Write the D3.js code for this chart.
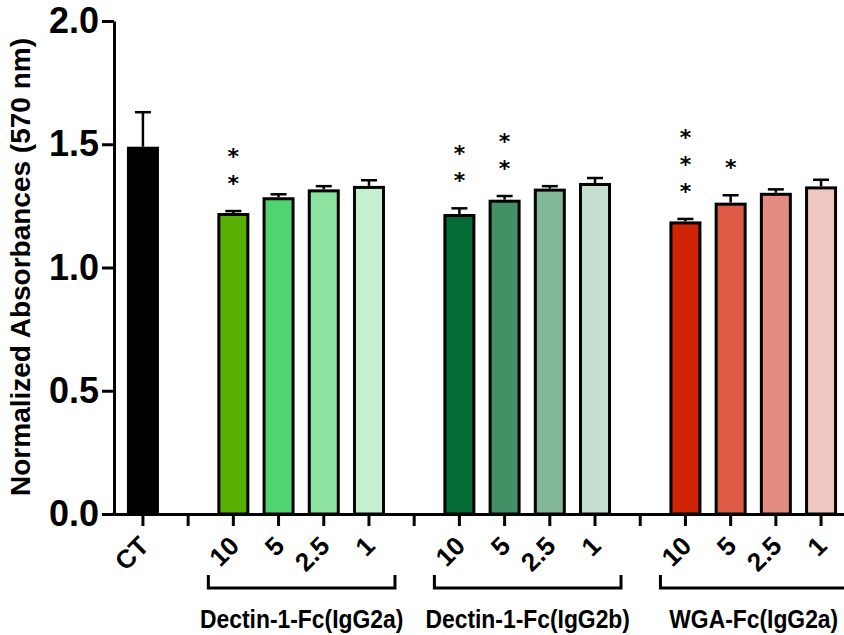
<!DOCTYPE html>
<html>
<head>
<meta charset="utf-8">
<script src="https://cdn.jsdelivr.net/npm/d3@7"></script>
<style>
  body { margin: 0; background: #fff; }
  svg { display: block; }
  text { font-family: "Liberation Sans", Arial, sans-serif; font-weight: bold; }
</style>
</head>
<body>
<svg id="chart" width="844" height="635"></svg>
<script>
// data
const groups = ["Dectin-1-Fc(IgG2a)", "Dectin-1-Fc(IgG2b)", "WGA-Fc(IgG2a)"];
const doses = ["10", "5", "2.5", "1"];
const ctMean = 1.49;
const ctSem = 0.14;
const means = [
    [1.221, 1.285, 1.317, 1.331],
    [1.217, 1.275, 1.320, 1.343],
    [1.187, 1.263, 1.303, 1.329]
];
const sems = [
    [0.008, 0.012, 0.013, 0.023],
    [0.023, 0.015, 0.010, 0.020],
    [0.010, 0.030, 0.014, 0.027]
];
const stars = [
    [2, 0, 0, 0],
    [2, 2, 0, 0],
    [3, 1, 0, 0]
];
const colors = [
    ["#58b005", "#50d470", "#8ce3a0", "#c5f0cf"],
    ["#036b33", "#438f66", "#83b89b", "#c4dfd0"],
    ["#d12305", "#dd5a45", "#e28d80", "#f0c6c0"]
];
const yTicks = [0, 0.5, 1.0, 1.5, 2.0];

// slots: CT, gap, 4 doses, gap, 4 doses, gap, 4 doses
const slots = [{ key: "CT", label: "CT", value: ctMean, sem: ctSem, color: "#000", stars: 0 }];
groups.forEach((g, gi) => {
    slots.push({ key: "gap" + gi, label: "" });
    doses.forEach((d, di) => {
        slots.push({
            key: g + "|" + d, label: d, group: gi,
            value: means[gi][di], sem: sems[gi][di],
            color: colors[gi][di], stars: stars[gi][di]
        });
    });
});

const svg = d3.select("#chart");

const x = d3.scaleBand()
    .domain(slots.map(s => s.key))
    .range([114, 850])
    .paddingInner(0)
    .paddingOuter(0.14);

const y = d3.scaleLinear()
    .domain([0, 2])
    .range([514, 21]);

const barW = 29;

// bars
const bars = slots.filter(s => s.value !== undefined);

svg.append("g").selectAll("rect")
    .data(bars)
    .join("rect")
    .attr("x", d => x(d.key) + x.bandwidth() / 2 - barW / 2)
    .attr("y", d => y(d.value) + 1.5)
    .attr("width", barW)
    .attr("height", d => y(0) - y(d.value) - 1.5)
    .attr("fill", d => d.color)
    .attr("stroke", "#000")
    .attr("stroke-width", 3);

// error bars (upper only)
const err = svg.append("g").attr("stroke", "#000").attr("stroke-width", 2.5);
bars.forEach(d => {
    const cx = x(d.key) + x.bandwidth() / 2;
    err.append("line")
        .attr("x1", cx).attr("x2", cx)
        .attr("y1", y(d.value)).attr("y2", y(d.value + d.sem));
    err.append("line")
        .attr("x1", cx - 8).attr("x2", cx + 8)
        .attr("y1", y(d.value + d.sem)).attr("y2", y(d.value + d.sem));
});

// significance stars, stacked upward
bars.filter(d => d.stars > 0).forEach(d => {
    const cx = x(d.key) + x.bandwidth() / 2;
    const base = y(d.value + d.sem) - 32 + 12;
    for (let i = 0; i < d.stars; i++) {
        svg.append("text")
            .attr("x", cx)
            .attr("y", base - i * 27)
            .attr("text-anchor", "middle")
            .style("font-family", "'DejaVu Sans', sans-serif")
            .style("font-weight", "bold")
            .style("font-size", "22px")
            .text("*");
    }
});

// y axis
const yAxis = svg.append("g")
    .attr("transform", "translate(114,0)")
    .call(d3.axisLeft(y).tickValues(yTicks).tickFormat(d3.format(".1f")).tickSize(12).tickSizeOuter(0).tickPadding(3));
yAxis.select(".domain").attr("stroke-width", 3);
yAxis.selectAll(".tick line").attr("stroke-width", 3);
yAxis.selectAll(".tick text").style("font-size", "36px").attr("fill", "#000");

// x axis
const xAxis = svg.append("g")
    .attr("transform", "translate(0,514)")
    .call(d3.axisBottom(x).tickSize(12).tickSizeOuter(0)
        .tickFormat(k => slots.find(s => s.key === k).label));
xAxis.attr("font-size", 26);
xAxis.select(".domain").attr("stroke-width", 3);
xAxis.selectAll(".tick line").attr("stroke-width", 3);
xAxis.selectAll(".tick text")
    .style("font-size", "26px")
    .attr("fill", "#000")
    .attr("text-anchor", "end")
    .attr("y", 0)
    .attr("dy", "0.35em")
    .attr("transform", "translate(1,27) rotate(-45)");

// extend axis line back to the y axis
svg.append("line")
    .attr("x1", 112.5).attr("x2", 116)
    .attr("y1", 514).attr("y2", 514)
    .attr("stroke", "#000").attr("stroke-width", 3);

// group brackets and labels
groups.forEach((g, gi) => {
    const first = x(g + "|" + doses[0]) + x.bandwidth() / 2;
    const last = x(g + "|" + doses[doses.length - 1]) + x.bandwidth() / 2;
    const x0 = first - 25, x1 = last + 26;
    const mid = (x0 + x1) / 2;
    svg.append("path")
        .attr("d", `M${x0},575V588H${x1}V575`)
        .attr("fill", "none")
        .attr("stroke", "#000")
        .attr("stroke-width", 3);
    svg.append("text")
        .attr("x", mid)
        .attr("y", 628)
        .attr("text-anchor", "middle")
        .attr("transform", `translate(${mid},0) scale(0.88,1) translate(${-mid},0)`)
        .style("font-size", "26px")
        .text(g);
});

// y title
svg.append("text")
    .attr("transform", "translate(30,267) rotate(-90)")
    .attr("text-anchor", "middle")
    .style("font-size", "28px")
    .text("Normalized Absorbances (570 nm)");
</script>
</body>
</html>
